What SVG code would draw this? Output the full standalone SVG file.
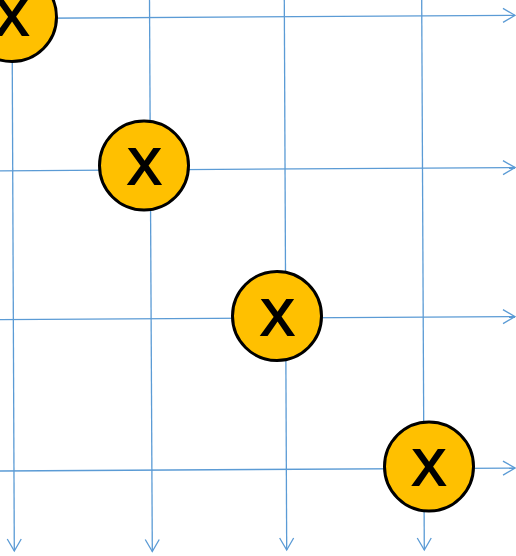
<svg xmlns="http://www.w3.org/2000/svg" width="516" height="556" viewBox="0 0 516 556">
<style>
.ln{stroke:#5B9BD5;stroke-width:1.3;fill:none;marker-end:url(#ar)}
.nd circle{fill:#FFC000;stroke:#000;stroke-width:3}
.nd text{font-family:"Liberation Sans",Arial,sans-serif;font-size:50px;fill:#000;stroke:#000;stroke-width:2.2;text-anchor:middle}
</style>
<defs>
<marker id="ar" markerUnits="userSpaceOnUse" markerWidth="16" markerHeight="18" refX="13" refY="8" orient="auto" viewBox="0 0 16 16">
<path d="M1,1 L13,8 L1,15" fill="none" stroke="#5B9BD5" stroke-width="1.3"/>
</marker>
</defs>
<g id="connectors">
<line class="ln" x1="0" y1="18.5" x2="515" y2="15.3"/>
<line class="ln" x1="0" y1="170.8" x2="515" y2="167.5"/>
<line class="ln" x1="0" y1="319.6" x2="515" y2="316.6"/>
<line class="ln" x1="0" y1="471" x2="515" y2="468"/>
<line class="ln" x1="12" y1="0" x2="14.3" y2="551"/>
<line class="ln" x1="149.5" y1="0" x2="152.3" y2="551.5"/>
<line class="ln" x1="284.3" y1="0" x2="286.7" y2="550"/>
<line class="ln" x1="421.7" y1="0" x2="424.3" y2="550"/>
</g>
<g id="n1" class="nd"><circle cx="12" cy="17" r="44.5"/><text x="12" y="35">X</text></g>
<g id="n2" class="nd"><circle cx="144" cy="165.5" r="44.5"/><text x="144.5" y="184">X</text></g>
<g id="n3" class="nd"><circle cx="277" cy="316" r="44.5"/><text x="277.5" y="334.5">X</text></g>
<g id="n4" class="nd"><circle cx="429" cy="466.5" r="44.5"/><text x="429" y="485">X</text></g>
</svg>
